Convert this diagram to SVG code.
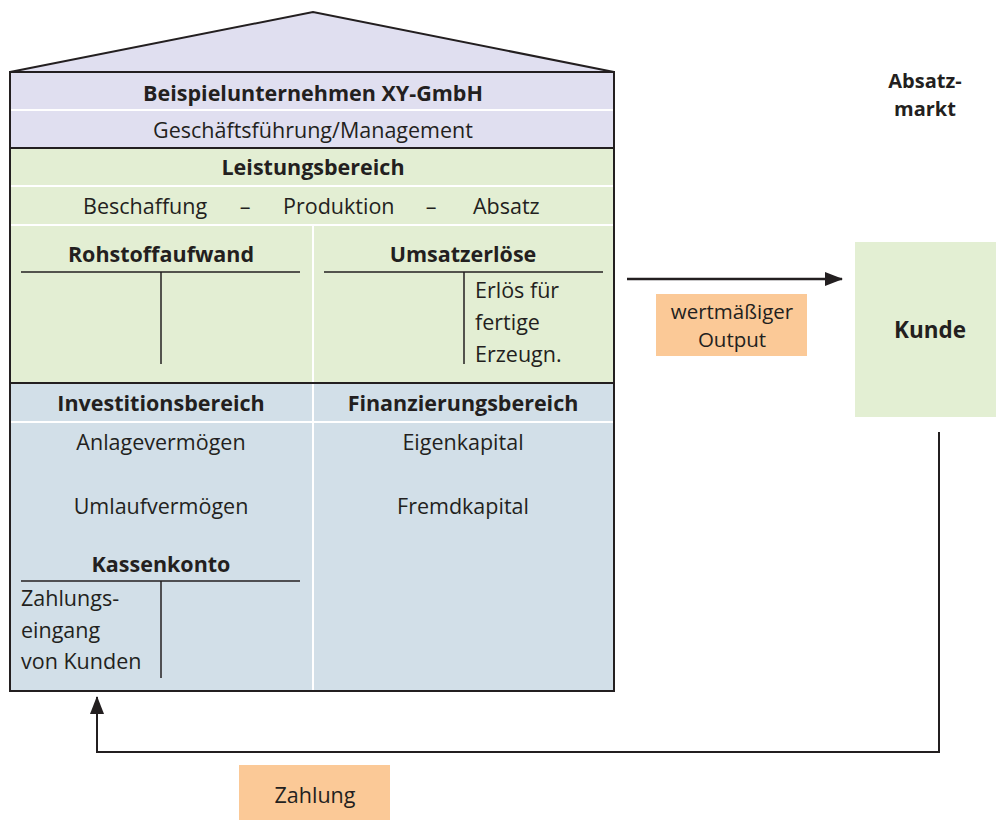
<svg xmlns="http://www.w3.org/2000/svg" width="996" height="820" viewBox="0 0 996 820">
<style>
text{font-family:"Open Sans","Noto Sans","DejaVu Sans",sans-serif;font-size:21.5px;fill:#231f20}
.b{font-weight:bold}
.c{text-anchor:middle}
.sep{stroke:#ffffff;stroke-width:2;fill:none}
.dk{stroke:#231f20;stroke-width:2;fill:none}
.tl{stroke:#231f20;stroke-width:1.5;fill:none}
.lab{fill:#fbc997}
</style>
<defs>
<marker id="ah2" markerWidth="18" markerHeight="14" refX="17" refY="7" orient="auto" markerUnits="userSpaceOnUse" viewBox="0 0 18 14">
<path d="M0,0 L18,7 L0,14 Z" fill="#231f20"/>
</marker>
</defs>

<g id="house">
<polygon points="10,72 313,12 614,72" fill="#e0dff0" stroke="#231f20" stroke-width="2" stroke-linejoin="miter"/>
<rect x="10" y="72" width="604" height="76" fill="#e0dff0"/>
<rect x="10" y="148" width="604" height="235" fill="#e3eed3"/>
<rect x="10" y="383" width="604" height="308" fill="#d2dfe8"/>
<line class="sep" x1="11" y1="110" x2="613" y2="110"/>
<line class="sep" x1="11" y1="186" x2="613" y2="186"/>
<line class="sep" x1="11" y1="225" x2="613" y2="225"/>
<line class="sep" x1="11" y1="422" x2="613" y2="422"/>
<line class="sep" x1="313" y1="225" x2="313" y2="382"/>
<line class="sep" x1="313" y1="384" x2="313" y2="690"/>
<line class="dk" x1="10" y1="148" x2="614" y2="148"/>
<line class="dk" x1="10" y1="383" x2="614" y2="383"/>
<rect x="10" y="72" width="604" height="619" class="dk"/>
</g>

<g id="management">
<text class="b c" x="313" y="101">Beispielunternehmen XY-GmbH</text>
<text class="c" x="313" y="138">Geschäftsführung/Management</text>
</g>

<g id="leistungsbereich">
<text class="b c" x="313" y="175">Leistungsbereich</text>
<text x="83" y="214">Beschaffung</text>
<text class="c" x="245" y="214">–</text>
<text x="283" y="214">Produktion</text>
<text class="c" x="431" y="214">–</text>
<text x="473" y="214">Absatz</text>
</g>

<g id="rohstoffaufwand">
<text class="b c" x="161" y="262">Rohstoffaufwand</text>
<line class="tl" x1="21" y1="272" x2="300" y2="272"/>
<line class="tl" x1="161" y1="272" x2="161" y2="364"/>
</g>

<g id="umsatzerloese">
<text class="b c" x="463" y="262">Umsatzerlöse</text>
<line class="tl" x1="324" y1="272" x2="603" y2="272"/>
<line class="tl" x1="464" y1="272" x2="464" y2="364"/>
<text x="475" y="298">Erlös für</text>
<text x="475" y="330">fertige</text>
<text x="475" y="362">Erzeugn.</text>
</g>

<g id="investitionsbereich">
<text class="b c" x="161" y="411">Investitionsbereich</text>
<text class="c" x="161" y="450">Anlagevermögen</text>
<text class="c" x="161" y="514">Umlaufvermögen</text>
</g>

<g id="kassenkonto">
<text class="b c" x="161" y="572">Kassenkonto</text>
<line class="tl" x1="21" y1="581" x2="300" y2="581"/>
<line class="tl" x1="161" y1="581" x2="161" y2="678"/>
<text x="21" y="606">Zahlungs-</text>
<text x="21" y="638">eingang</text>
<text x="21" y="669">von Kunden</text>
</g>

<g id="finanzierungsbereich">
<text class="b c" x="463" y="411">Finanzierungsbereich</text>
<text class="c" x="463" y="450">Eigenkapital</text>
<text class="c" x="463" y="514">Fremdkapital</text>
</g>

<g id="absatzmarkt">
<text class="b c" x="925" y="88" style="font-size:20px">Absatz-</text>
<text class="b c" x="925" y="116" style="font-size:20px">markt</text>
</g>

<g id="kunde">
<rect x="855" y="242" width="141" height="175" fill="#e3efd3"/>
<text class="b c" x="930" y="338" style="font-size:22.5px">Kunde</text>
</g>

<g id="connectors">
<line x1="627" y1="279" x2="842" y2="279" stroke="#231f20" stroke-width="2.5" marker-end="url(#ah2)"/>
<polyline points="939,432 939,752 97,752 97,697" fill="none" stroke="#231f20" stroke-width="2" marker-end="url(#ah2)"/>
</g>

<g id="label-output">
<rect class="lab" x="656" y="294" width="151" height="62"/>
<text class="c" x="732" y="319" style="font-size:20.5px">wertmäßiger</text>
<text class="c" x="732" y="347" style="font-size:20.5px">Output</text>
</g>

<g id="label-zahlung">
<rect class="lab" x="239" y="765" width="151" height="55"/>
<text class="c" x="315" y="803">Zahlung</text>
</g>
</svg>
